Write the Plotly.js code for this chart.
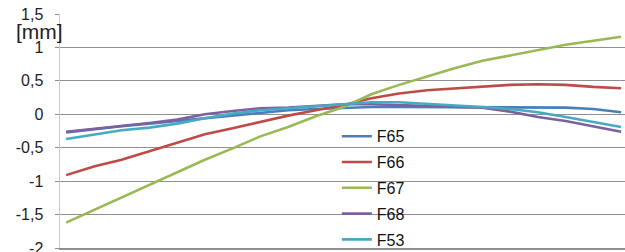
<!DOCTYPE html>
<html>
<head>
<meta charset="utf-8">
<script src="https://cdn.plot.ly/plotly-3.0.1.min.js"></script>
<style>html,body{margin:0;padding:0;background:#fff;}#chart{width:625px;height:252px;}</style>
</head>
<body>
<div id="chart"></div>
<script>
const positions = [0,1,2,3,4,5,6,7,8,9,10,11,12,13,14,15,16,17,18,19,20];
const F65 = [-0.27,-0.22,-0.18,-0.14,-0.10,-0.05,-0.01,0.03,0.06,0.08,0.10,0.11,0.11,0.11,0.11,0.11,0.10,0.10,0.10,0.08,0.03];
const F66 = [-0.91,-0.78,-0.68,-0.55,-0.43,-0.30,-0.21,-0.11,-0.02,0.06,0.14,0.24,0.31,0.36,0.39,0.41,0.44,0.45,0.44,0.41,0.39];
const F67 = [-1.62,-1.43,-1.25,-1.05,-0.87,-0.68,-0.51,-0.33,-0.19,-0.03,0.11,0.30,0.44,0.57,0.69,0.80,0.88,0.96,1.04,1.10,1.16];
const F68 = [-0.26,-0.22,-0.17,-0.13,-0.08,0.00,0.05,0.09,0.10,0.12,0.15,0.15,0.14,0.12,0.11,0.10,0.04,-0.04,-0.10,-0.18,-0.26];
const F53 = [-0.37,-0.30,-0.24,-0.20,-0.14,-0.06,0.01,0.06,0.09,0.12,0.16,0.18,0.18,0.16,0.14,0.11,0.08,0.03,-0.04,-0.11,-0.19];
const seriesNames = ['F65','F66','F67','F68','F53'];
const seriesColors = ['#4A7EBB','#BE4B48','#98B954','#7D60A0','#46AAC5'];
const yTickVals = [-2,-1.5,-1,-0.5,0,0.5,1,1.5];
const yTickText = ['-2','-1,5','-1','-0,5','0','0,5','1','1,5'];
const yUnit = '[mm]';

const allSeries = [F65,F66,F67,F68,F53];
const traces = allSeries.map((ys,i)=>({
  x: positions, y: ys, type:'scatter', mode:'lines', name: seriesNames[i],
  legendgroup: 'g'+i,
  line:{color:seriesColors[i], width:2.6}
}));

const layout = {
  width:625, height:252,
  margin:{l:60, r:0, t:14, b:4, autoexpand:false},
  paper_bgcolor:'#fff', plot_bgcolor:'#fff',
  font:{family:'Liberation Sans, Arial, sans-serif', color:'#222'},
  showlegend:true,
  legend:{x:0.49, y:0.55, xanchor:'left', yanchor:'top', bgcolor:'rgba(0,0,0,0)',
    font:{size:16, color:'#111'}, traceorder:'grouped', tracegroupgap:2},
  xaxis:{range:[-0.22,20.14], showgrid:false, zeroline:false, showticklabels:false,
    showline:true, linecolor:'#8f8f8f', linewidth:1.5, ticks:'', fixedrange:true,
    automargin:false},
  yaxis:{range:[-2,1.5], tickvals:yTickVals, ticktext:yTickText,
    showgrid:true, gridcolor:'#8f8f8f', gridwidth:1, zeroline:false,
    showline:true, linecolor:'#c8c8c8', linewidth:1.5,
    ticks:'outside', ticklen:4, tickcolor:'#8f8f8f', ticklabelstandoff:8,
    ticklabeloverflow:'allow', automargin:false,
    tickfont:{size:16, color:'#222'}},
  annotations:[{text:yUnit, xref:'paper', yref:'paper', x:-0.036, y:0.925,
    xanchor:'center', yanchor:'middle', showarrow:false, font:{size:21, color:'#222'}}]
};
Plotly.newPlot('chart', traces, layout, {displayModeBar:false, staticPlot:true});
</script>
</body>
</html>
